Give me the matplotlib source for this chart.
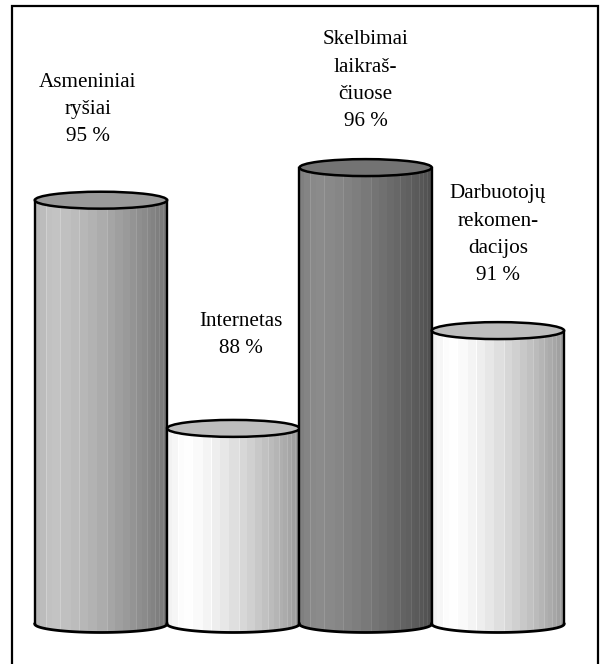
import numpy as np
import matplotlib
matplotlib.use("Agg")
import matplotlib.pyplot as plt
from matplotlib.patches import Polygon, Ellipse, Rectangle

# survey results, one cylinder per channel
labels = ["Asmeniniai\nryšiai", "Internetas", "Skelbimai\nlaikraš-\nčiuose", "Darbuotojų\nrekomen-\ndacijos"]
values = [95, 88, 96, 91]
baseline = 82

# shading per cylinder: (lightest, darkest, lid) grey levels
shades = [(0.77, 0.46, 0.60), (1.00, 0.60, 0.74), (0.55, 0.31, 0.45), (1.00, 0.60, 0.74)]
# label offsets from the lid centre, in pixels
label_offsets = [(-13, 91), (8, 93), (0, 87), (0, 96)]

W, H = 605, 664
fig = plt.figure(figsize=(W / 100, H / 100), dpi=100)
ax = fig.add_axes([0, 0, 1, 1])
ax.set_xlim(-0.763, 3.809)
ax.set_ylim(80.773, 101.141)
ax.axis("off")

half = 0.5          # half width of a cylinder in category units
rim = 0.26          # half height of the ellipses in value units

# band edges (fraction of width) used for the faceted shading
edges = np.array([0, .04, .08, .13, .19, .27, .33, .40, .47, .54, .60, .66,
                  .71, .76, .80, .84, .87, .90, .93, .96, 1.0])
seam_at = {2, 4, 6, 9, 13, 15, 17, 18, 19}


def profile(light, dark, n=132):
    t = (np.arange(n) + 0.5) / n
    band = np.searchsorted(edges, t, side="right") - 1
    mid = (edges[band] + edges[band + 1]) / 2
    v = np.where(mid < 0.13,
                 light - 0.06 * (0.13 - mid) / 0.13,
                 dark + (light - dark) * (1 - ((mid - 0.13) / 0.87) ** 1.4))
    # thin lighter seam at the start of selected bands
    first = np.r_[True, band[1:] != band[:-1]]
    seam = first & np.isin(band, list(seam_at))
    v = np.where(seam, v + 0.06, v)
    return np.clip(v, 0, 1)


for i, (val, (light, dark, lid)) in enumerate(zip(values, shades)):
    x0, x1 = i - half, i + half
    th = np.linspace(np.pi, 2 * np.pi, 80)
    arc_x = i + half * np.cos(th)
    arc_y = baseline + rim * np.sin(th)
    body = np.column_stack([np.r_[x0, arc_x, x1], np.r_[val, arc_y, val]])
    patch = Polygon(body, closed=True, facecolor="none", edgecolor="none")
    ax.add_patch(patch)

    g = profile(light, dark)
    img = np.repeat(g[None, :, None], 3, axis=2)
    im = ax.imshow(img, extent=(x0, x1, baseline - rim, val), aspect="auto",
                   interpolation="nearest", zorder=2 + i)
    im.set_clip_path(patch)

    ax.plot([x0, x0], [baseline, val], color="black", lw=1.7, zorder=3 + i)
    ax.plot([x1, x1], [baseline, val], color="black", lw=1.7, zorder=3 + i)
    ax.plot(arc_x, arc_y, color="black", lw=2.0, zorder=3 + i)
    ax.add_patch(Ellipse((i, val), 2 * half, 2 * rim, facecolor=str(lid),
                         edgecolor="black", lw=1.8, zorder=3 + i))

    dx, dy = label_offsets[i]
    ax.annotate(f"{labels[i]}\n{val} %", xy=(i, val), xytext=(dx, dy),
                textcoords="offset pixels", ha="center", va="center",
                multialignment="center", family="Liberation Serif",
                fontsize=15.2, linespacing=1.58, zorder=10)

# outer frame, open at the bottom edge
fig.patches.append(Rectangle((12 / W, -0.02), (598 - 12) / W, 1 - 6 / H + 0.02,
                             transform=fig.transFigure, fill=False,
                             edgecolor="black", lw=1.6))

fig.savefig("out.png", dpi=100, facecolor="white")
